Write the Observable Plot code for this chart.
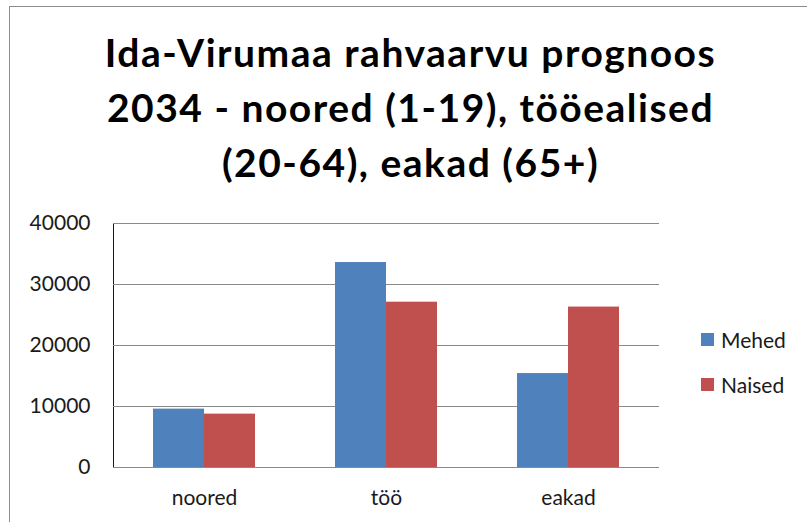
<!DOCTYPE html>
<html>
<head>
<meta charset="utf-8">
<script src="https://cdn.jsdelivr.net/npm/d3@7"></script>
<script src="https://cdn.jsdelivr.net/npm/@observablehq/plot@0.6"></script>
<style>
  html, body { margin: 0; padding: 0; background: #fff; }
  #wrap { position: relative; width: 807px; height: 522px; overflow: hidden; font-family: Lato, "Open Sans", sans-serif; }
  #border { position: absolute; left: 9px; top: 6px; width: 900px; height: 600px; border: 1px solid #8c8c8c; box-sizing: border-box; }
  #title { position: absolute; left: 7px; top: 25px; width: 807px; text-align: center; font-weight: bold; font-size: 39px; letter-spacing: 1.5px; line-height: 55px; color: #000; }
  #chart { position: absolute; left: 0; top: 200px; }
  .leg { position: absolute; left: 701px; font-size: 21px; color: #1a1a1a; display: flex; align-items: center; }
  .sw { width: 13px; height: 13px; margin-right: 7px; }
</style>
</head>
<body>
<div id="wrap">
  <div id="border"></div>
  <div id="title">Ida-Virumaa rahvaarvu prognoos<br>2034 - noored (1-19), tööealised<br>(20-64), eakad (65+)</div>
  <div id="chart"></div>
  <div id="legend"></div>
</div>
<script>
const categories = ["noored", "töö", "eakad"];
const series = ["Mehed", "Naised"];
const mehed = [9570, 33600, 15400];
const naised = [8750, 27100, 26300];
const yTicks = [0, 10000, 20000, 30000, 40000];
const colors = ["#4f81bd", "#c0504d"];

const data = [];
categories.forEach((c, i) => {
  data.push({category: c, series: "Mehed", value: mehed[i]});
  data.push({category: c, series: "Naised", value: naised[i]});
});

const chart = Plot.plot({
  width: 807,
  height: 322,
  marginLeft: 112,
  marginRight: 147,
  marginTop: 23,
  marginBottom: 55,
  style: {fontFamily: "Lato, 'Open Sans', sans-serif", fontSize: "21px", color: "#1a1a1a", background: "transparent"},
  fx: {domain: categories, padding: 0, label: null, tickSize: 0, tickPadding: 23, axis: "bottom"},
  x: {domain: series, paddingInner: 0, paddingOuter: 0.757, axis: null},
  y: {domain: [0, 40000], ticks: yTicks, tickFormat: d3.format("d"), tickSize: 0, tickPadding: 23, label: null, line: true},
  color: {domain: series, range: colors},
  marks: [
    Plot.gridY(yTicks, {stroke: "#8a8a8a", strokeOpacity: 1, strokeWidth: 1}),
    Plot.barY(data, {fx: "category", x: "series", y: "value", fill: "series"}),
    Plot.ruleY([0], {stroke: "#8a8a8a", strokeWidth: 1})
  ]
});
document.getElementById("chart").appendChild(chart);

const legend = document.getElementById("legend");
const legTops = [327, 372];
series.forEach((s, i) => {
  const row = document.createElement("div");
  row.className = "leg";
  row.style.top = legTops[i] + "px";
  const sw = document.createElement("div");
  sw.className = "sw";
  sw.style.background = colors[i];
  const t = document.createElement("span");
  t.textContent = s;
  row.appendChild(sw);
  row.appendChild(t);
  legend.appendChild(row);
});
</script>
</body>
</html>
